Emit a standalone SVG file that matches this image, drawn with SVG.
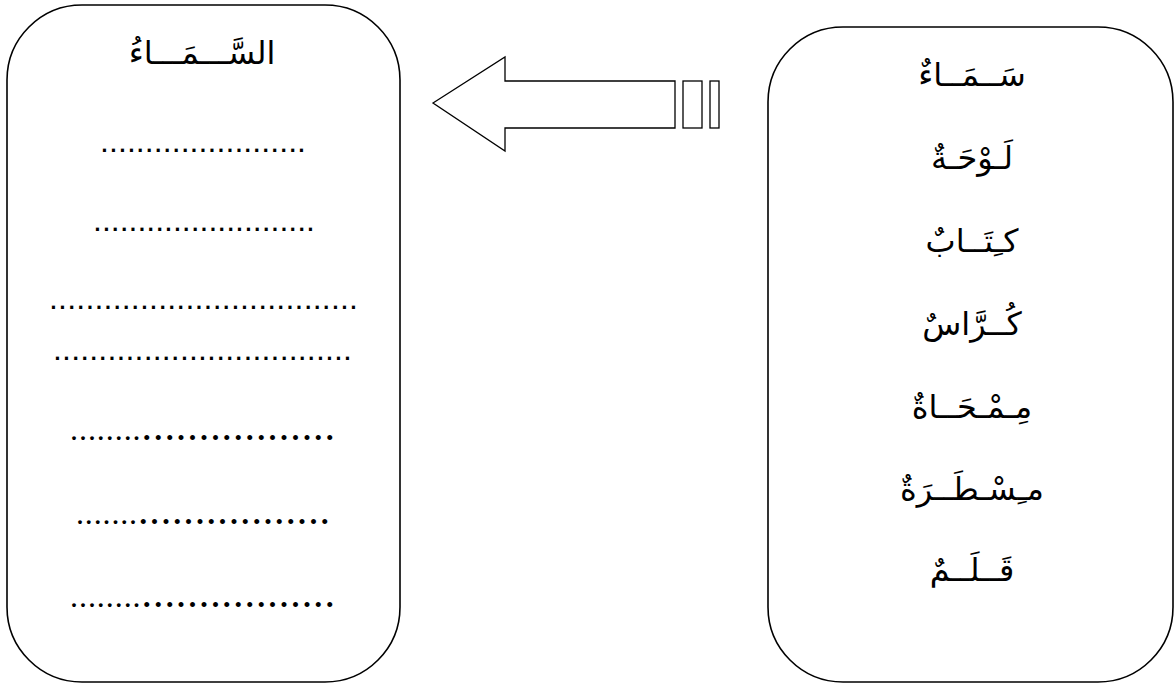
<svg xmlns="http://www.w3.org/2000/svg" width="1175" height="684" viewBox="0 0 1175 684">
<style>
.box{fill:#fff;stroke:#000;stroke-width:1.6}
.ar{font-family:"Liberation Sans","DejaVu Sans",sans-serif;font-size:32px;fill:#000;text-anchor:middle}
.dt{font-family:"Liberation Sans",Arial,sans-serif;font-size:32px;fill:#000}
.dr{font-family:"Liberation Serif","Times New Roman",serif;font-size:42px;fill:#000}
.shape{fill:#fff;stroke:#000;stroke-width:1.3}
</style>
<rect width="1175" height="684" fill="#fff"/>
<g id="answer-box">
<rect class="box" x="7" y="5" width="393" height="677" rx="75" ry="75"/>
<text class="ar" x="202" y="64" direction="rtl">السَّـــمَـــاءُ</text>
<text class="dt" x="100" y="151.5" textLength="206" lengthAdjust="spacing">.......................</text>
<text class="dt" x="93" y="230.5" textLength="222" lengthAdjust="spacing">.........................</text>
<text class="dt" x="49" y="308.5" textLength="309" lengthAdjust="spacing">..................................</text>
<text class="dt" x="53" y="359.5" textLength="299" lengthAdjust="spacing">.................................</text>
<text class="dr" x="70" y="440" textLength="265" lengthAdjust="spacing"><tspan font-size="32">........</tspan>.................</text>
<text class="dr" x="76" y="524" textLength="254" lengthAdjust="spacing"><tspan font-size="32">.......</tspan>.................</text>
<text class="dr" x="70" y="607" textLength="265" lengthAdjust="spacing"><tspan font-size="32">........</tspan>.................</text>
</g>
<g id="connectors">
<polygon class="shape" points="433,103 505,57 505,81 675,81 675,128 505,128 505,151"/>
<rect class="shape" x="683" y="81" width="19" height="47"/>
<rect class="shape" x="710" y="81" width="9" height="47"/>
</g>
<g id="word-box">
<rect class="box" x="768" y="27" width="405" height="655" rx="75" ry="75"/>
<text class="ar" x="972" y="86" direction="rtl">سَــمَــاءٌ</text>
<text class="ar" x="972" y="169" direction="rtl">لَـوْحَـةٌ</text>
<text class="ar" x="972" y="252" direction="rtl">كـِتَــابٌ</text>
<text class="ar" x="972" y="335" direction="rtl">كُــرَّاسٌ</text>
<text class="ar" x="972" y="418" direction="rtl">مِـمْـحَــاةٌ</text>
<text class="ar" x="972" y="500" direction="rtl">مـِسْـطَــرَةٌ</text>
<text class="ar" x="972" y="581" direction="rtl">قَــلَــمٌ</text>
</g>
</svg>
